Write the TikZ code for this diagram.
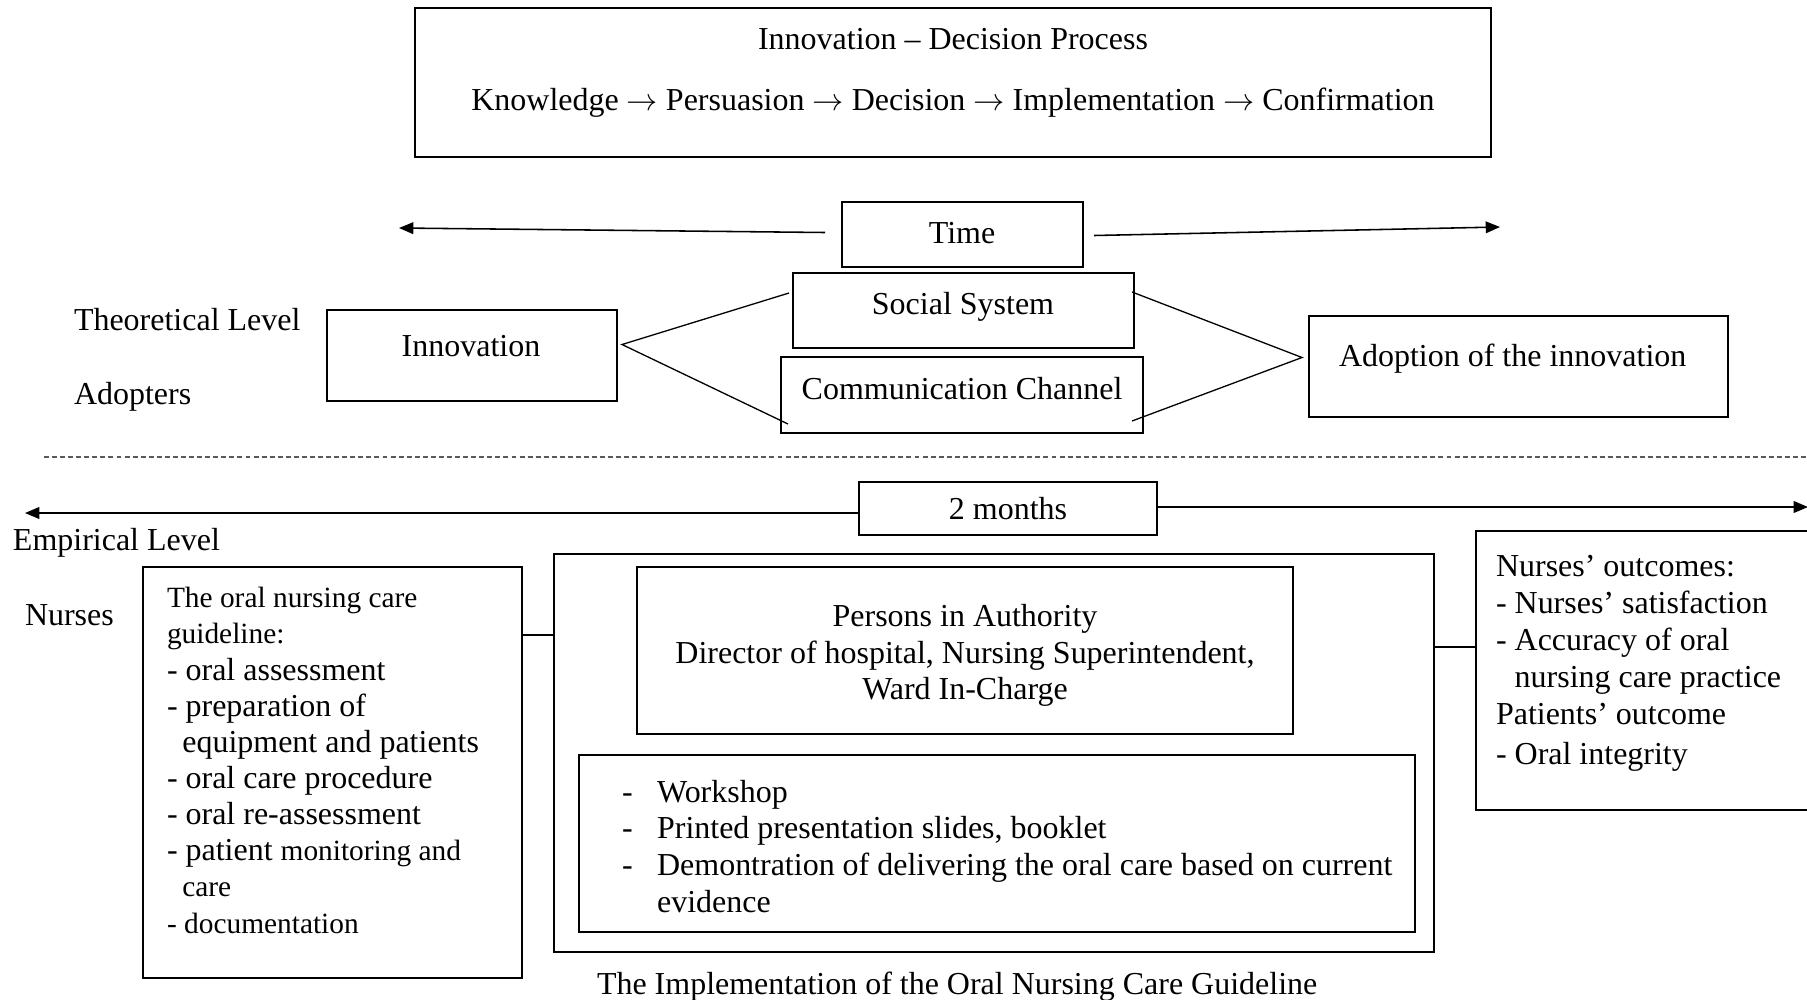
\documentclass[tikz,border=0pt]{standalone}
\usepackage{fontspec}
\setmainfont{Liberation Serif}
\usetikzlibrary{arrows.meta,fit}
\newcommand{\ra}{\ $\rightarrow$\ }
\newcommand{\smf}{\fontsize{11.3}{13.9}\selectfont}
\begin{document}
\begin{tikzpicture}[x=0.3846pt,y=-0.3846pt,
  every node/.style={font=\fontsize{12.3}{14}\selectfont, inner sep=0pt, outer sep=0pt},
  box/.style={draw, line width=0.8pt},
  one/.style={text height=8.6pt, text depth=2.7pt},
  link/.style={line width=0.5pt},
  arr/.style={line width=0.6pt, -{Triangle[length=5.5pt,width=4.5pt]}},
  sepline/.style={draw=black!65, line width=0.5pt, dash pattern=on 1.9pt off 1.2pt}]
\useasboundingbox (0,0) rectangle (1807,999);
\clip (0,0) rectangle (1807,999);

% ---- theoretical level ----
\node[box, fit={(415,8) (1491,157)}] (proc) {};
\node[one] (proct) at (953,41.5) {Innovation – Decision Process};
\node[one] (procs) at (953,102.5) {Knowledge\ra Persuasion\ra Decision\ra Implementation\ra Confirmation};

\node[box, fit={(842,202) (1083,267)}] (time) {};
\node[one] (timet) at (962,235.5) {Time};
\coordinate (tL) at (399,228);
\coordinate (tR) at (1500,227);
\draw[arr] ([shift={(-17,-2)}]time.west) -- (tL);
\draw[arr] ([shift={(11,1)}]time.east) -- (tR);

\node[box, fit={(793,273) (1134,348)}] (soc) {};
\node[one] (soct) at (963,306.5) {Social System};
\node[box, fit={(781,357) (1143,433)}] (com) {};
\node[one] (comt) at (962,391.5) {Communication Channel};
\node[box, fit={(327,310) (617,401)}] (inn) {};
\node[one] (innt) at (471,348.5) {Innovation};
\node[box, fit={(1309,316) (1728,417)}] (adp) {};
\node[one, anchor=west] (adpt) at (1339,358.5) {Adoption of the innovation};

\coordinate (innV) at ([shift={(5,-11)}]inn.east);
\coordinate (socL) at ([shift={(-4,20)}]soc.north west);
\coordinate (comL) at ([shift={(7,-9)}]com.south west);
\draw[link] (socL) -- (innV) -- (comL);
\coordinate (adpV) at ([shift={(-7,-9)}]adp.west);
\coordinate (socR) at ([shift={(-2,19)}]soc.north east);
\coordinate (comR) at ([shift={(-11,-12)}]com.south east);
\draw[link] (socR) -- (adpV) -- (comR);

\node[one, anchor=west] (theo) at (74,322.5) {Theoretical Level};
\node[one, anchor=west] (adop) at (74,396.5) {Adopters};

% ---- separator ----
\coordinate (sepL) at (44,457);
\coordinate (sepR) at (1807,457);
\draw[sepline] (sepL) -- (sepR);

% ---- empirical level ----
\node[box, fit={(859,482) (1157,535)}] (two) {};
\node[one] (twot) at (1008,512) {2 months};
\coordinate (twoLe) at (25,513);
\coordinate (twoRi) at (1808,507);
\draw[arr] (two.west |- twoLe) -- (twoLe);
\draw[arr] (two.east |- twoRi) -- (twoRi);

\node[one, anchor=west] (emp) at (13,542.5) {Empirical Level};
\node[one, anchor=west] (nur) at (25,617.5) {Nurses};

\node[box, fit={(143,567) (522,978)}] (guide) {};
\node[anchor=north west, align=left, font=\fontsize{12.3}{13.9}\selectfont] (guidet) at (167,582.5)
 {{\smf\strut The oral nursing care}\\
  {\smf guideline:}\\
  - oral assessment\\
  - preparation of\\
  \makebox[5.9pt][l]{}equipment and patients\\
  - oral care procedure\\
  - oral re-assessment\\
  - patient {\smf monitoring and}\\
  \makebox[5.9pt][l]{}{\smf care}\\
  {\smf - documentation}};

\node[box, fit={(554,554) (1434,952)}] (impl) {};
\node[box, fit={(637,567) (1293,734)}] (auth) {};
\node[anchor=north, align=center] (autht) at (965,601.5)
 {\strut Persons in Authority\\Director of hospital, Nursing Superintendent,\\Ward In-Charge};
\node[box, fit={(579,755) (1415,932)}] (work) {};
\node[anchor=north west, align=left, font=\fontsize{12.3}{14.1}\selectfont] (workt) at (622,776.5)
 {\makebox[13.5pt][l]{-}\strut Workshop\\
  \makebox[13.5pt][l]{-}Printed presentation slides, booklet\\
  \makebox[13.5pt][l]{-}Demontration of delivering the oral care based on current\\
  \makebox[13.5pt][l]{}evidence};
\node[one, anchor=west] (cap) at (597,986.5) {The Implementation of the Oral Nursing Care Guideline};

\node[box, fit={(1476,531) (1840,810)}] (out) {};
\node[anchor=north west, align=left, font=\fontsize{12.3}{14.2}\selectfont] (outt) at (1496,550.5)
 {\strut Nurses’ outcomes:\\
  - Nurses’ satisfaction\\
  - Accuracy of oral\\
  \makebox[7.2pt][l]{}nursing care practice\\
  Patients’ outcome\\[1.2pt]
  - Oral integrity};

\coordinate (y1) at (0,635);
\coordinate (y2) at (0,647);
\draw[line width=0.6pt] (guide.east |- y1) -- (impl.west |- y1);
\draw[line width=0.6pt] (impl.east |- y2) -- (out.west |- y2);
\end{tikzpicture}
\end{document}
